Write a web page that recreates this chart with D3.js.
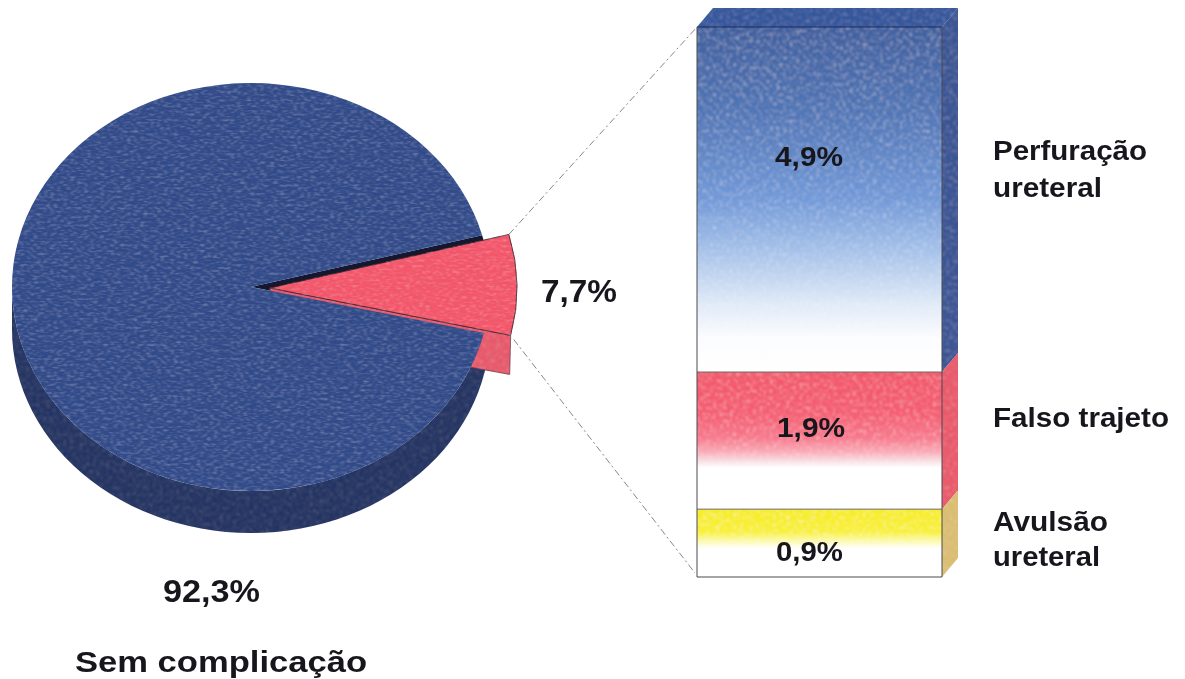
<!DOCTYPE html>
<html><head><meta charset="utf-8">
<script src="https://cdn.jsdelivr.net/npm/d3@7"></script>
<style>html,body{margin:0;padding:0;background:#fff;overflow:hidden}svg{display:block}
text{font-family:"Liberation Sans",Arial,sans-serif;font-weight:700;fill:#17171b}</style>
</head><body><svg id="c" width="1185" height="679"></svg>
<script>
// data
const pieCategories = ["Sem complicação", "Complicações"];
const pieValues = [92.3, 7.7];
const pieLabels = ["92,3%", "7,7%"];
const barCategories = [["Perfuração","ureteral"], ["Falso trajeto"], ["Avulsão","ureteral"]];
const barValues = [4.83, 1.92, 0.95];   // heights as drawn in the picture
const barLabels = ["4,9%", "1,9%", "0,9%"];
const barStops = [
  [["0","#3f5f9f"],["0.25","#4f75b6"],["0.5","#7199d8"],["0.66","#a9c4ea"],["0.8","#dfe9f7"],["0.9","#fbfcfe"],["1","#ffffff"]],
  [["0","#f2566a"],["0.3","#f45d72"],["0.48","#f7788c"],["0.58","#f9aab6"],["0.65","#f8e0e4"],["0.7","#ffffff"],["1","#ffffff"]],
  [["0","#f7ec1e"],["0.33","#f8f038"],["0.46","#fcf9a8"],["0.58","#ffffff"],["1","#ffffff"]]
];
const barSideColors = ["#3a5494", "#ea5a6a", "#dcbf72"];

const svg = d3.select("#c");
const defs = svg.append("defs");

// scan-like mottling
function grain(id, amount, light, dark) {
  const f = defs.append("filter").attr("id", id).attr("x","-5%").attr("y","-5%").attr("width","110%").attr("height","110%");
  f.append("feTurbulence").attr("type","fractalNoise").attr("baseFrequency","0.3").attr("numOctaves",3).attr("seed",7).attr("result","n");
  f.append("feColorMatrix").attr("in","n").attr("type","matrix")
    .attr("values",`0 0 0 0 ${light[0]}  0 0 0 0 ${light[1]}  0 0 0 0 ${light[2]}  ${amount} 0 0 0 ${-amount*0.5}`).attr("result","lt");
  f.append("feColorMatrix").attr("in","n").attr("type","matrix")
    .attr("values",`0 0 0 0 0.05  0 0 0 0 0.08  0 0 0 0 0.22  0 ${dark} 0 0 ${-dark*0.5}`).attr("result","dk");
  f.append("feMerge").attr("result","m").selectAll("feMergeNode").data(["lt","dk"]).join("feMergeNode").attr("in",d=>d);
  f.append("feGaussianBlur").attr("in","m").attr("stdDeviation",0.8).attr("result","mb");
  f.append("feComposite").attr("in","mb").attr("in2","SourceAlpha").attr("operator","in").attr("result","spk");
  f.append("feMerge").selectAll("feMergeNode").data(["SourceGraphic","spk"]).join("feMergeNode").attr("in",d=>d);
}
grain("grain", 0.8, [0.5,0.6,0.85], 1.0);
grain("grainSoft", 0.5, [0.9,0.9,0.95], 0.35);
grain("grainDepth", 0.4, [0.4,0.45,0.6], 0.8);
grain("grainFront", 0.9, [1,1,1], 0);
const soft = defs.append("filter").attr("id","soft");
soft.append("feGaussianBlur").attr("stdDeviation",0.6);

// pie
const cx = 251, cy = 287, rx = 239, ry = 204, depth = 42, rs = 247, sx = 270, sy = 288;
const deg = Math.PI/180;
const start = 103*deg;
const pieGen = d3.pie().sort(null).value(d=>d).startAngle(start).endAngle(start+2*Math.PI);
const arcs = pieGen(pieValues);
const arcMain = d3.arc().innerRadius(0).outerRadius(rx);
const arcSlice = d3.arc().innerRadius(0).outerRadius(rs);
const k = ry/rx;
const main = arcs[0], slice = arcs[1];
const pt = (a,r,x,y)=>[x+r*Math.sin(a), y-r*k*Math.cos(a)];

const pieG = svg.append("g");
const wallLine = d3.range(90,271,3).map(a=>pt(a*deg,rx,cx,cy));
pieG.append("path").attr("fill","#283462").attr("filter","url(#grainDepth)")
  .attr("d",d3.line()([...wallLine,...wallLine.slice().reverse().map(p=>[p[0],p[1]+depth])])+"Z");
pieG.append("path").attr("d",arcMain({...slice}))
  .attr("transform",`translate(${cx},${cy}) scale(1,${k})`).attr("fill","#14172e");
// slice wall, seen below the lower radial edge
const e0 = pt(slice.endAngle,rs,sx,sy), tip=[sx,sy];
pieG.append("path").attr("fill","#e8596a").attr("stroke","#6b3a46").attr("stroke-width",0.8).attr("filter","url(#grainSoft)")
  .attr("d",d3.line()([tip,e0,[e0[0]-1,e0[1]+depth-3],[tip[0],tip[1]+depth]])+"Z");
// main pie top
pieG.append("path").attr("d",arcMain(main))
  .attr("transform",`translate(${cx},${cy}) scale(1,${k})`).attr("fill","#324c8a").attr("filter","url(#grain)");
// exploded slice top
pieG.append("path").attr("d",arcSlice(slice))
  .attr("transform",`translate(${sx},${sy}) scale(1,${k})`)
  .attr("fill","#f4566a").attr("stroke","#3a2028").attr("stroke-width",0.9).attr("filter","url(#grainSoft)");

// bar of pie
const bx0 = 697, bx1 = 942, by0 = 27, by1 = 577, ox = 16, oy = -19;
const y = d3.scaleLinear().domain([0,d3.sum(barValues)]).range([by0,by1]);
const cum = d3.cumsum(barValues);
const segs = barValues.map((v,i)=>({i,y0:y(i?cum[i-1]:0),y1:y(cum[i])}));

segs.forEach(s=>{
  const g = defs.append("linearGradient").attr("id","g"+s.i).attr("x1",0).attr("y1",0).attr("x2",0).attr("y2",1);
  g.selectAll("stop").data(barStops[s.i]).join("stop").attr("offset",d=>d[0]).attr("stop-color",d=>d[1]);
});
const barG = svg.append("g");
barG.append("path").attr("fill","#36569c").attr("filter","url(#grain)")
  .attr("d",d3.line()([[bx0,by0],[bx0+ox,by0+oy],[bx1+ox,by0+oy],[bx1,by0]])+"Z");
barG.selectAll("path.side").data(segs).join("path").attr("class","side")
  .attr("fill",d=>barSideColors[d.i]).attr("filter","url(#grainSoft)")
  .attr("d",d=>d3.line()([[bx1,d.y0],[bx1+ox,d.y0+oy],[bx1+ox,d.y1+oy],[bx1,d.y1]])+"Z");
barG.selectAll("rect.front").data(segs).join("rect").attr("class","front")
  .attr("x",bx0).attr("width",bx1-bx0).attr("y",d=>d.y0).attr("height",d=>d.y1-d.y0)
  .attr("fill",d=>`url(#g${d.i})`).attr("filter","url(#grainFront)");
barG.selectAll("line.div").data(segs).join("line").attr("class","div")
  .attr("x1",bx0).attr("x2",bx1).attr("y1",d=>d.y0).attr("y2",d=>d.y0)
  .attr("stroke",d=>d.i===0?"#1d2c5c":"#6a6a6a").attr("stroke-width",1);
barG.append("path").attr("fill","none").attr("stroke","#4a4b52").attr("stroke-width",1)
  .attr("d",`M${bx0},${by0}V${by1}H${bx1}V${by0}`);

// leader lines
const lead = [[pt(slice.startAngle,rs,sx,sy),[bx0,by0]],[[e0[0]+3,e0[1]+4],[bx0-2,by1-4]]];
svg.append("g").selectAll("line").data(lead).join("line")
  .attr("x1",d=>d[0][0]).attr("y1",d=>d[0][1]).attr("x2",d=>d[1][0]).attr("y2",d=>d[1][1])
  .attr("stroke","#888").attr("stroke-width",1).attr("stroke-dasharray","7 3 2 3");

// texts: the reference type is slightly wider than the font, so each run is fitted to its width
const T = svg.append("g").attr("filter","url(#soft)");
const addT=(t,x,yy,w,fs)=>T.append("text").text(t).attr("x",x).attr("y",yy).attr("font-size",fs)
  .attr("textLength",w).attr("lengthAdjust","spacingAndGlyphs");
addT(pieLabels[1],541,302,76,31);
addT(pieLabels[0],163,602,97,31);
addT(pieCategories[0],75,672,292,30);
[[775,166,68,28],[777,437,68,28],[776,561,67,28]].forEach((p,i)=>addT(barLabels[i],p[0],p[1],p[2],p[3]));
const catPos = [[[160,154],[197,109]],[[427,176]],[[531,115],[566,107]]];
barCategories.forEach((lines,i)=>lines.forEach((l,j)=>addT(l,993,catPos[i][j][0],catPos[i][j][1],27)));
</script></body></html>
